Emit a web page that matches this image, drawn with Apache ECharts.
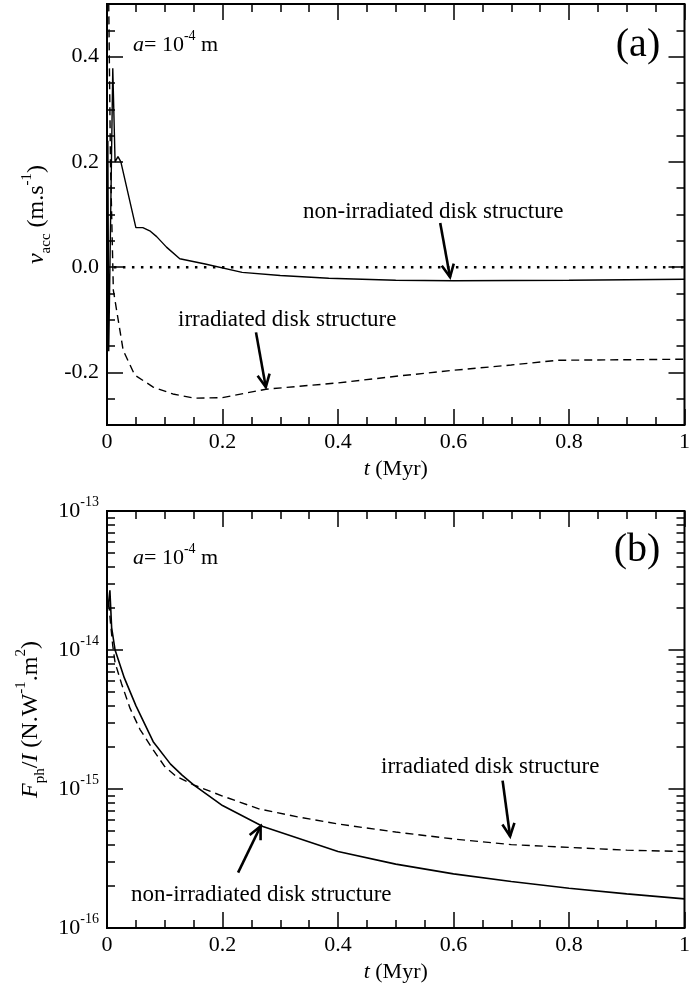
<!DOCTYPE html>
<html>
<head>
<meta charset="utf-8">
<script src="https://cdn.jsdelivr.net/npm/echarts@6/dist/echarts.min.js"></script>
<style>
  html, body { margin: 0; padding: 0; background: #fff; }
  #c { width: 693px; height: 987px; }
</style>
</head>
<body>
<div id="c"></div>
<script>
// ---- Panel (a): accretion velocity v_acc (m/s) against time t (Myr) ----
const nonIrrVacc = [
  [0.0015, 0.24], [0.003, -0.16], [0.010, 0.378], [0.014, 0.200], [0.019, 0.210],
  [0.024, 0.200], [0.050, 0.075], [0.062, 0.075], [0.074, 0.069], [0.086, 0.058],
  [0.103, 0.038], [0.126, 0.016], [0.170, 0.006], [0.234, -0.010], [0.300, -0.016],
  [0.384, -0.021], [0.500, -0.025], [0.600, -0.026], [0.800, -0.025], [1.000, -0.023]
];
const irrVacc = [
  [0.002, 0.60], [0.006, 0.20], [0.011, -0.044], [0.028, -0.158], [0.048, -0.205],
  [0.080, -0.228], [0.114, -0.241], [0.151, -0.249], [0.200, -0.248], [0.275, -0.232],
  [0.400, -0.220], [0.504, -0.207], [0.600, -0.196], [0.700, -0.186], [0.780, -0.177],
  [0.900, -0.176], [1.000, -0.175]
];
const zeroVacc = [[0.012, 0], [1.0, 0]];

// ---- Panel (b): photophoretic force per intensity F_ph / I (N W^-1 m^2) ----
const nonIrrF = [
  [0.002, 2.04e-14], [0.005, 2.69e-14], [0.008, 1.45e-14], [0.014, 1.00e-14], [0.030, 6.3e-15],
  [0.050, 3.98e-15], [0.080, 2.19e-15], [0.110, 1.51e-15], [0.130, 1.26e-15], [0.150, 1.07e-15],
  [0.200, 7.6e-16], [0.270, 5.37e-16], [0.400, 3.55e-16], [0.500, 2.88e-16], [0.600, 2.45e-16],
  [0.700, 2.16e-16], [0.800, 1.93e-16], [0.900, 1.76e-16], [1.000, 1.62e-16]
];
const irrF = [
  [0.003, 2.19e-14], [0.006, 1.58e-14], [0.010, 1.07e-14], [0.014, 8.1e-15], [0.025, 5.75e-15],
  [0.040, 3.8e-15], [0.057, 2.69e-15], [0.080, 1.91e-15], [0.100, 1.45e-15], [0.120, 1.23e-15],
  [0.150, 1.07e-15], [0.200, 8.9e-16], [0.263, 7.2e-16], [0.330, 6.3e-16], [0.400, 5.6e-16],
  [0.500, 4.9e-16], [0.600, 4.37e-16], [0.700, 3.98e-16], [0.800, 3.8e-16], [0.900, 3.63e-16],
  [1.000, 3.55e-16]
];

// ---- Tick values ----
const vaccMajor = [-0.2, 0, 0.2, 0.4];
const vaccMinor = [-0.25, -0.15, -0.1, -0.05, 0.05, 0.1, 0.15, 0.25, 0.3, 0.35, 0.45];
const fMinor = [];
[1e-16, 1e-15, 1e-14].forEach(d => { for (let k = 2; k <= 9; k++) fMinor.push(k * d); });

// ---- Arrows (tail -> head, data coordinates) ----
const arrowsVacc = [
  { from: [0.577, 0.084], to: [0.594, -0.019] },
  { from: [0.258, -0.124], to: [0.275, -0.228] }
];
const arrowsF = [
  { from: [0.685, 1.15e-15], to: [0.698, 4.57e-16] },
  { from: [0.227, 2.5e-16], to: [0.266, 5.4e-16] }
];

const FONT = '"Liberation Serif", "Times New Roman", serif';
const INK = '#000';
const FS = 22;

function richSet(size, subSize, lh) {
  return {
    n: { fontFamily: FONT, fontSize: size, color: INK, lineHeight: lh, verticalAlign: 'middle' },
    i: { fontFamily: FONT, fontSize: size, fontStyle: 'italic', color: INK, lineHeight: lh, verticalAlign: 'middle' },
    sup: { fontFamily: FONT, fontSize: subSize, color: INK, lineHeight: subSize, verticalAlign: 'top' },
    sub: { fontFamily: FONT, fontSize: subSize, color: INK, lineHeight: subSize, verticalAlign: 'bottom' }
  };
}
const richBase = richSet(FS, 14, 32);
const richName = richSet(24, 15, 34);

const grids = [
  { left: 107, top: 4, width: 581, height: 421 },
  { left: 107, top: 511, width: 581, height: 417 }
].map(g => Object.assign({ show: true, borderColor: INK, borderWidth: 2, backgroundColor: 'transparent' }, g));

const tickStyle = { color: INK, width: 1.5 };

function xAxes(gridIndex) {
  const common = {
    gridIndex, type: 'value', min: 0, max: 1, interval: 0.2,
    axisLine: { show: false, onZero: false },
    splitLine: { show: false },
    axisTick: { inside: true, length: 16, lineStyle: tickStyle },
    minorTick: { show: true, splitNumber: 4, length: 8, lineStyle: tickStyle }
  };
  return [
    Object.assign({}, common, {
      position: 'bottom',
      axisLabel: { fontFamily: FONT, fontSize: FS, color: INK, margin: 6 },
      name: '{i|t}{n| (Myr)}',
      nameLocation: 'middle', nameGap: 28,
      nameTextStyle: { rich: richBase }
    }),
    Object.assign({}, common, { position: 'top', axisLabel: { show: false } })
  ];
}

function yAxesVacc() {
  const common = {
    gridIndex: 0, type: 'value', min: -0.3, max: 0.5, interval: 0.1,
    axisLine: { show: false, onZero: false },
    splitLine: { show: false }
  };
  const major = { inside: true, length: 16, lineStyle: tickStyle, customValues: vaccMajor };
  const minor = { inside: true, length: 8, lineStyle: tickStyle, customValues: vaccMinor };
  return [
    Object.assign({}, common, {
      position: 'left', axisTick: major,
      axisLabel: {
        customValues: vaccMajor, fontFamily: FONT, fontSize: FS, color: INK, margin: 8,
        formatter: v => v.toFixed(1)
      },
      name: '{i|v}{sub|acc}{n| (m.s}{sup|-1}{n|)}',
      nameLocation: 'middle', nameGap: 49, nameRotate: 90,
      nameTextStyle: { rich: richName }
    }),
    Object.assign({}, common, { position: 'left', axisTick: minor, axisLabel: { show: false } }),
    Object.assign({}, common, { position: 'right', axisTick: major, axisLabel: { show: false } }),
    Object.assign({}, common, { position: 'right', axisTick: minor, axisLabel: { show: false } })
  ];
}

function yAxesF() {
  const common = {
    gridIndex: 1, type: 'log', logBase: 10, min: 1e-16, max: 1e-13,
    axisLine: { show: false, onZero: false },
    splitLine: { show: false }
  };
  const major = { inside: true, length: 16, lineStyle: tickStyle };
  const minor = { inside: true, length: 8, lineStyle: tickStyle, customValues: fMinor };
  return [
    Object.assign({}, common, {
      position: 'left', axisTick: major,
      axisLabel: {
        margin: 8, color: INK,
        formatter: v => '{n|10}{sup|' + Math.round(Math.log10(v)) + '}',
        rich: richBase
      },
      name: '{i|F}{sub|ph}{n|/}{i|I}{n| (N.W}{sup|-1}{n|.m}{sup|2}{n|)}',
      nameLocation: 'middle', nameGap: 55, nameRotate: 90,
      nameTextStyle: { rich: richName }
    }),
    Object.assign({}, common, { position: 'left', axisTick: minor, axisLabel: { show: false } }),
    Object.assign({}, common, { position: 'right', axisTick: major, axisLabel: { show: false } }),
    Object.assign({}, common, { position: 'right', axisTick: minor, axisLabel: { show: false } })
  ];
}

function lineSeries(data, xi, yi, type, width) {
  return {
    type: 'line', data, xAxisIndex: xi, yAxisIndex: yi,
    showSymbol: false, symbol: 'none', clip: true, silent: true,
    lineStyle: { color: INK, width, type },
    animation: false
  };
}

const chart = echarts.init(document.getElementById('c'));
chart.setOption({
  animation: false,
  backgroundColor: '#fff',
  grid: grids,
  xAxis: xAxes(0).concat(xAxes(1)),
  yAxis: yAxesVacc().concat(yAxesF()),
  series: [
    lineSeries(nonIrrVacc, 0, 0, 'solid', 1.4),
    lineSeries(irrVacc, 0, 0, [8, 5], 1.4),
    lineSeries(zeroVacc, 0, 0, [2.5, 6.5], 2.5),
    lineSeries(nonIrrF, 2, 4, 'solid', 1.6),
    lineSeries(irrF, 2, 4, [8, 5], 1.4)
  ]
});

// Arrow: shaft plus an open V head at the tip
function arrowGraphics(a, xi, yi) {
  const p0 = chart.convertToPixel({ xAxisIndex: xi, yAxisIndex: yi }, a.from);
  const p1 = chart.convertToPixel({ xAxisIndex: xi, yAxisIndex: yi }, a.to);
  const dx = p1[0] - p0[0], dy = p1[1] - p0[1];
  const len = Math.hypot(dx, dy);
  const bx = -dx / len, by = -dy / len;
  const L = 14, ang = Math.PI / 7;
  const rot = (s) => [bx * Math.cos(s) - by * Math.sin(s), bx * Math.sin(s) + by * Math.cos(s)];
  const r1 = rot(ang), r2 = rot(-ang);
  const style = { stroke: INK, lineWidth: 2.6, fill: null, lineCap: 'butt', lineJoin: 'miter' };
  return [
    { type: 'polyline', shape: { points: [p0, p1] }, style, silent: true },
    { type: 'polyline', shape: { points: [[p1[0] + L * r1[0], p1[1] + L * r1[1]], p1, [p1[0] + L * r2[0], p1[1] + L * r2[1]]] }, style, silent: true }
  ];
}

function label(text, x, y, opts) {
  return {
    type: 'text', x, y, silent: true,
    style: Object.assign({
      text, fill: INK, font: FS + 'px ' + FONT, align: 'left', verticalAlign: 'middle', rich: richBase
    }, opts || {})
  };
}

const sizeLabel = '{i|a}{n|= 10}{sup|-4}{n| m}';
const graphics = [
  label(sizeLabel, 133, 45),
  label('(a)', 638, 45, { font: '40px ' + FONT, align: 'center' }),
  label('non-irradiated disk structure', 303, 212, { font: '23px ' + FONT }),
  label('irradiated disk structure', 178, 320, { font: '23px ' + FONT }),
  label(sizeLabel, 133, 558),
  label('(b)', 637, 550, { font: '40px ' + FONT, align: 'center' }),
  label('irradiated disk structure', 381, 767, { font: '23px ' + FONT }),
  label('non-irradiated disk structure', 131, 895, { font: '23px ' + FONT })
];
arrowsVacc.forEach(a => graphics.push(...arrowGraphics(a, 0, 0)));
arrowsF.forEach(a => graphics.push(...arrowGraphics(a, 2, 4)));
chart.setOption({ graphic: graphics });
</script>
</body>
</html>
